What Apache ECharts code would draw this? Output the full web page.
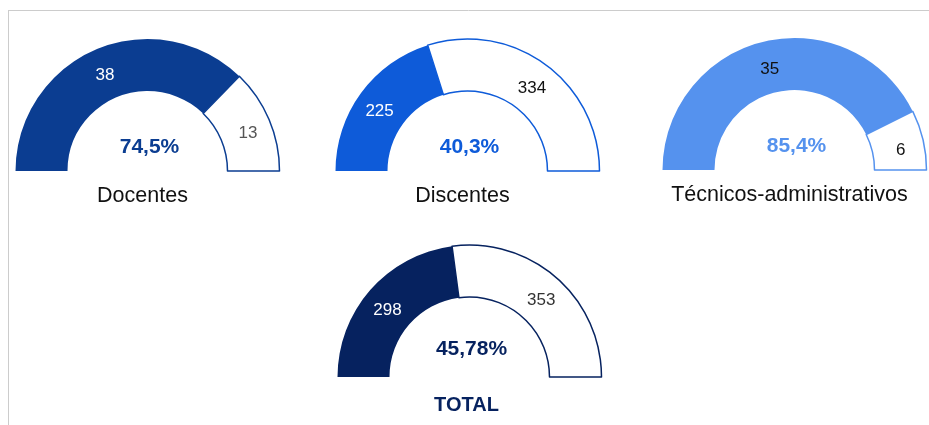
<!DOCTYPE html>
<html>
<head>
<meta charset="utf-8">
<script src="https://cdn.jsdelivr.net/npm/echarts@6/dist/echarts.min.js"></script>
<style>
  html, body { margin: 0; padding: 0; background: #fff; }
  #chart { width: 929px; height: 425px; }
</style>
</head>
<body>
<div id="chart"></div>
<script>
const groups = ['Docentes', 'Discentes', 'Técnicos-administrativos', 'TOTAL'];
const filled = [38, 225, 35, 298];
const remaining = [13, 334, 6, 353];
const decimals = [1, 1, 1, 2];
const colors = ['#0b3d91', '#0e5bd9', '#5592ee', '#06225f'];
const filledLabelColors = ['#ffffff', '#ffffff', '#111111', '#ffffff'];
const remainingLabelColors = ['#555555', '#111111', '#111111', '#333333'];

document.addEventListener('DOMContentLoaded', () => {
  const chart = echarts.init(document.getElementById('chart'));
  const font = '"Liberation Sans", Arial, sans-serif';

  // gauge centres and radii
  const centers = [[147.5, 171], [467.5, 171], [794.5, 170], [469.5, 377]];
  const inner = 80;
  const outer = 132;

  const series = groups.map((name, i) => ({
    name: name,
    type: 'pie',
    center: centers[i],
    radius: [inner, outer],
    startAngle: 180,
    endAngle: 0,
    clockwise: true,
    silent: true,
    avoidLabelOverlap: false,
    label: {
      show: true,
      position: 'inside',
      fontFamily: font,
      fontSize: 17,
      offset: [0, 5],
      formatter: '{c}'
    },
    labelLine: { show: false },
    data: [
      {
        value: filled[i],
        name: 'filled',
        itemStyle: { color: colors[i] },
        label: { color: filledLabelColors[i] }
      },
      {
        value: remaining[i],
        name: 'remaining',
        itemStyle: { color: '#ffffff', borderColor: colors[i], borderWidth: 1.5 },
        label: { color: remainingLabelColors[i] }
      }
    ]
  }));

  const texts = [];
  groups.forEach((name, i) => {
    const pct = (filled[i] / (filled[i] + remaining[i]) * 100).toFixed(decimals[i]).replace('.', ',') + '%';
    texts.push({
      type: 'text',
      x: centers[i][0] + 2,
      y: centers[i][1] - (i === 3 ? 28 : 24),
      style: {
        text: pct,
        fill: colors[i],
        font: 'bold 21px ' + font,
        textAlign: 'center',
        textVerticalAlign: 'middle'
      }
    });
    texts.push({
      type: 'text',
      x: centers[i][0] - (i === 3 ? 3 : 5),
      y: centers[i][1] + (i === 3 ? 28 : 25),
      style: {
        text: name,
        fill: i === 3 ? colors[3] : '#111111',
        font: (i === 3 ? 'bold 20px ' : '21.5px ') + font,
        textAlign: 'center',
        textVerticalAlign: 'middle'
      }
    });
  });

  // frame lines
  texts.push({
    type: 'line',
    shape: { x1: 8, y1: 10.5, x2: 929, y2: 10.5 },
    style: { stroke: '#cccccc', lineWidth: 1 }
  });
  texts.push({
    type: 'line',
    shape: { x1: 8.5, y1: 10, x2: 8.5, y2: 425 },
    style: { stroke: '#cccccc', lineWidth: 1 }
  });

  chart.setOption({
    animation: false,
    series: series,
    graphic: texts
  });

  window.addEventListener('resize', () => chart.resize());
});
</script>
</body>
</html>
